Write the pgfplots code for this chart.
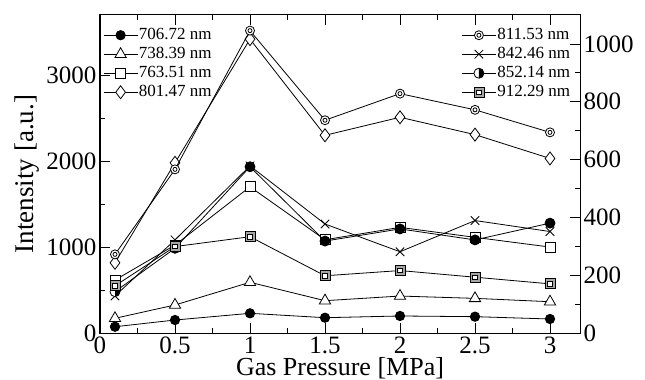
\documentclass[border=0pt]{standalone}
\usepackage{pgfplots}
\pgfplotsset{compat=1.18}
\usepackage{fontspec}
\setmainfont{Liberation Serif}

\pgfdeclareplotmark{dcirc}{%
  \pgfpathcircle{\pgfpointorigin}{\pgfplotmarksize}%
  \pgfusepathqfillstroke
  \pgfpathcircle{\pgfpointorigin}{0.45\pgfplotmarksize}%
  \pgfusepathqstroke
}
\pgfdeclareplotmark{halfc}{%
  \pgfpathcircle{\pgfpointorigin}{\pgfplotmarksize}%
  \pgfusepathqfillstroke
  \pgfsetfillcolor{black}%
  \pgfpathmoveto{\pgfqpoint{0pt}{\pgfplotmarksize}}%
  \pgfpatharc{90}{-90}{\pgfplotmarksize}%
  \pgfpathclose
  \pgfusepathqfill
}
\pgfdeclareplotmark{gsq}{%
  \pgfsetfillcolor{black!35}%
  \pgfpathrectangle{\pgfqpoint{-\pgfplotmarksize}{-\pgfplotmarksize}}{\pgfqpoint{2\pgfplotmarksize}{2\pgfplotmarksize}}%
  \pgfusepathqfillstroke
  \pgfsetfillcolor{white}%
  \pgfpathrectangle{\pgfqpoint{-0.45\pgfplotmarksize}{-0.45\pgfplotmarksize}}{\pgfqpoint{0.9\pgfplotmarksize}{0.9\pgfplotmarksize}}%
  \pgfusepathqfillstroke
}

\pgfplotsset{
  common/.style={
    width=480pt, height=318pt, scale only axis,
    xmin=0, xmax=3.2,
    tick align=inside,
    major tick length=10pt, minor tick length=5pt,
    axis line style={line width=1pt},
    every tick/.style={black, line width=0.8pt},
    tick label style={font=\fontsize{25}{25}\selectfont},
    label style={font=\fontsize{27}{27}\selectfont},
    /pgf/number format/assume math mode=true,
    /pgf/number format/1000 sep={},
    scaled ticks=false,
    legend cell align=left,
    legend image code/.code={\draw[mark repeat=2,mark phase=2] plot coordinates {(0pt,0pt) (17pt,0pt) (34pt,0pt)};},
    every axis plot/.append style={black, line width=0.8pt, mark options={solid, fill=white, line width=0.8pt}},
    legend style={draw=none, fill=none, row sep=2pt, column sep=0pt,
      nodes={font=\fontsize{17}{19}\selectfont, text height=12pt, text depth=3pt, inner sep=1pt}},
  }
}

\begin{document}
\begin{tikzpicture}
\useasboundingbox (-100pt,-47pt) rectangle (545pt,333pt);
\begin{axis}[common,
  ymin=0, ymax=3700,
  xtick={0,0.5,1,1.5,2,2.5,3}, minor x tick num=1,
  ytick={0,1000,2000,3000}, minor y tick num=1,
  xtick pos=both, ytick pos=left,
  xticklabel style={inner sep=0pt, yshift=-4pt},
  xlabel={Gas Pressure [MPa]}, ylabel={Intensity [a.u.]},
  xlabel style={at={(axis description cs:0.5,0)}, anchor=base, yshift=-42pt, inner sep=0pt, font=\fontsize{26}{26}\selectfont},
  legend style={at={(0,0.97)}, anchor=north west},
]
\addplot[mark=*, mark size=4.7pt, mark options={fill=black}] coordinates {(0.1,73) (0.5,151) (1,229) (1.5,178) (2,198) (2.5,190) (3,163)};
\addlegendentry{706.72 nm}
\addplot[mark=triangle*, mark size=6.5pt] coordinates {(0.1,171) (0.5,326) (1,590) (1.5,376) (2,430) (2.5,403) (3,364)};
\addlegendentry{738.39 nm}
\addplot[mark=square*, mark size=5pt] coordinates {(0.1,616) (0.5,1023) (1,1701) (1.5,1085) (2,1229) (2.5,1113) (3,1000)};
\addlegendentry{763.51 nm}
\addplot[mark=diamond*, mark size=6.5pt] coordinates {(0.1,817) (0.5,1980) (1,3419) (1.5,2300) (2,2510) (2.5,2308) (3,2031)};
\addlegendentry{801.47 nm}
\end{axis}
\begin{axis}[common,
  ymin=0, ymax=1100,
  hide x axis,
  ytick={0,200,400,600,800,1000}, minor y tick num=1,
  ytick pos=right,
  legend style={at={(0.988,0.97)}, anchor=north east},
]
\addplot[mark=dcirc, mark size=4.5pt] coordinates {(0.1,272) (0.5,566) (1,1046) (1.5,736) (2,828) (2.5,772) (3,694)};
\addlegendentry{811.53 nm}
\addplot[mark=x, mark size=6pt] coordinates {(0.1,128) (0.5,322) (1,578) (1.5,377) (2,281) (2.5,389) (3,351)};
\addlegendentry{842.46 nm}
\addplot[mark=halfc, mark size=5pt] coordinates {(0.1,143) (0.5,293) (1,575) (1.5,318) (2,360) (2.5,322) (3,380)};
\addlegendentry{852.14 nm}
\addplot[mark=gsq, mark size=5pt] coordinates {(0.1,163) (0.5,299) (1,333) (1.5,198) (2,216) (2.5,193) (3,170)};
\addlegendentry{912.29 nm}
\end{axis}
\end{tikzpicture}
\end{document}
